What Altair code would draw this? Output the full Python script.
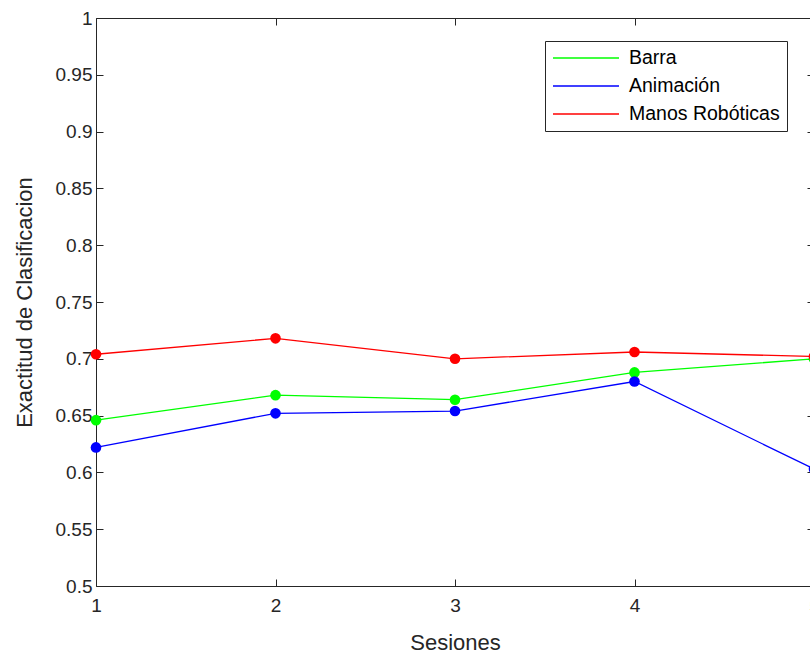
import altair as alt
import pandas as pd

# ---- data ----
sesiones = [1, 2, 3, 4, 5]
series_names = ["Barra", "Animación", "Manos Robóticas"]
barra = [0.646, 0.668, 0.664, 0.688, 0.700]
animacion = [0.622, 0.652, 0.654, 0.680, 0.603]
manos = [0.704, 0.718, 0.700, 0.706, 0.702]
series_colors = ["#00ff00", "#0000ff", "#ff0000"]
x_ticks = [1, 2, 3, 4, 5]
y_ticks = [0.5, 0.55, 0.6, 0.65, 0.7, 0.75, 0.8, 0.85, 0.9, 0.95, 1.0]

rows = []
for name, vals in zip(series_names, [barra, animacion, manos]):
    for s, v in zip(sesiones, vals):
        rows.append({"Sesion": s, "Exactitud": v, "Serie": name})
df = pd.DataFrame(rows)

FONT = "Liberation Sans"
AX = "#262626"
TICK_FS = 19
TITLE_FS = 22

xscale = alt.Scale(domain=[1, 5], nice=False, zero=False)
yscale = alt.Scale(domain=[0.5, 1.0], nice=False, zero=False)
inward = alt.ExprRef(expr="-7")

x_bottom = alt.Axis(
    orient="bottom", values=x_ticks, format="d", title="Sesiones",
    grid=False, domainColor=AX, domainWidth=1, tickColor=AX, tickWidth=1,
    tickSize=inward, labelPadding=17, labelFont=FONT, labelFontSize=TICK_FS,
    labelColor=AX, labelFlush=False, labelOverlap=False,
    titleFont=FONT, titleFontSize=TITLE_FS, titleFontWeight="normal",
    titleColor=AX, titleX=359, titleY=56, titleBaseline="middle",
)
y_left = alt.Axis(
    orient="left", values=y_ticks, format="~g", title="Exactitud de Clasificacion",
    grid=False, domainColor=AX, domainWidth=1, tickColor=AX, tickWidth=1,
    tickSize=inward, labelPadding=11, labelFont=FONT, labelFontSize=TICK_FS,
    labelColor=AX, labelFlush=False, labelOverlap=False,
    titleFont=FONT, titleFontSize=TITLE_FS, titleFontWeight="normal",
    titleColor=AX, titleX=-72, titleY=284, titleBaseline="middle", titleAngle=270,
)
x_top = alt.Axis(
    orient="top", values=x_ticks, labels=False, title=None, grid=False,
    domainColor=AX, domainWidth=1, tickColor=AX, tickWidth=1, tickSize=inward,
)
y_right = alt.Axis(
    orient="right", values=y_ticks, labels=False, title=None, grid=False,
    domainColor=AX, domainWidth=1, tickColor=AX, tickWidth=1, tickSize=inward,
)

color_scale = alt.Scale(domain=series_names, range=series_colors)

base = alt.Chart(df)

lines = base.mark_line(strokeWidth=1.3).encode(
    x=alt.X("Sesion:Q", scale=xscale, axis=x_bottom),
    y=alt.Y("Exactitud:Q", scale=yscale, axis=y_left),
    color=alt.Color(
        "Serie:N", scale=color_scale, sort=series_names,
        legend=alt.Legend(
            title=None, orient="none", legendX=449, legendY=23,
            symbolType="stroke", symbolSize=4356, symbolStrokeWidth=1.3,
            labelFont=FONT, labelFontSize=19.5, labelColor="black",
            strokeColor=AX, fillColor="white", padding=7,
            rowPadding=8, clipHeight=20, labelOffset=9,
        ),
    ),
    detail="Serie:N",
)

points = base.mark_circle(size=113, opacity=1).encode(
    x=alt.X("Sesion:Q", scale=xscale, axis=None),
    y=alt.Y("Exactitud:Q", scale=yscale, axis=None),
    color=alt.Color("Serie:N", scale=color_scale, sort=series_names, legend=None),
)

frame = base.mark_point(opacity=0).encode(
    x=alt.X("Sesion:Q", scale=xscale, axis=x_top),
    y=alt.Y("Exactitud:Q", scale=yscale, axis=y_right),
)

chart = alt.layer(lines, points, frame).properties(
    width=718, height=568,
    autosize=alt.AutoSizeParams(type="none"),
    padding={"left": 96, "top": 18, "right": -4, "bottom": 68},
    background="white",
).configure_view(stroke=None)

chart.save("out.html", embed_options={"renderer": "svg", "actions": False})
